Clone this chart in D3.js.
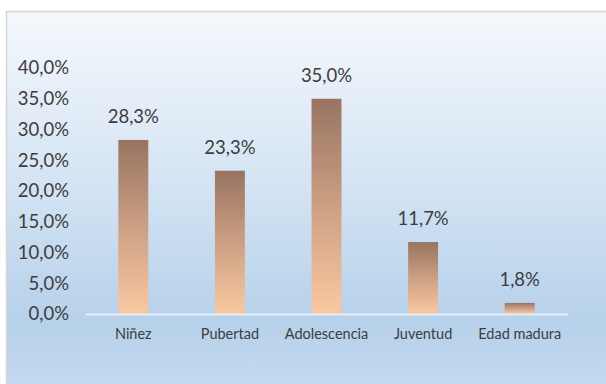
<!DOCTYPE html>
<html>
<head>
<meta charset="utf-8">
<script src="https://cdn.jsdelivr.net/npm/d3@7/dist/d3.min.js"></script>
<style>
  html, body { margin: 0; padding: 0; background: #ffffff; }
  svg { display: block; }
</style>
</head>
<body>
<div id="chart"></div>
<script>
// Distribution by life stage
const categories = ["Niñez", "Pubertad", "Adolescencia", "Juventud", "Edad madura"];
const values = [28.3, 23.3, 35.0, 11.7, 1.8];
const yTicks = [0, 5, 10, 15, 20, 25, 30, 35, 40];

const W = 606, H = 384;
const frame = { x: 6.5, y: 11.5 };
const plot = { left: 85, right: 568, top: 68, bottom: 314 };

const fmt = v => d3.format(".1f")(v).replace(".", ",") + "%";
const font = "Lato, 'Open Sans', sans-serif";
const textColor = "#3d3d3d";

const svg = d3.select("#chart").append("svg")
  .attr("width", W).attr("height", H);

const defs = svg.append("defs");
const bg = defs.append("linearGradient").attr("id", "bg")
  .attr("x1", 0).attr("y1", 0).attr("x2", 0).attr("y2", 1);
bg.append("stop").attr("offset", "0%").attr("stop-color", "#f5f8fc");
bg.append("stop").attr("offset", "45%").attr("stop-color", "#d4e4f4");
bg.append("stop").attr("offset", "82%").attr("stop-color", "#b6d1ea");
bg.append("stop").attr("offset", "100%").attr("stop-color", "#c4d9ee");

// each bar shades from brown at the top to peach at the base
const barGrad = defs.append("linearGradient").attr("id", "barGrad")
  .attr("x1", 0).attr("y1", 0).attr("x2", 0).attr("y2", 1);
barGrad.append("stop").attr("offset", "0%").attr("stop-color", "#987461");
barGrad.append("stop").attr("offset", "50%").attr("stop-color", "#cca083");
barGrad.append("stop").attr("offset", "100%").attr("stop-color", "#fac8a2");

// chart area with border
svg.append("rect")
  .attr("x", frame.x).attr("y", frame.y)
  .attr("width", W - frame.x + 5).attr("height", H - frame.y + 5)
  .attr("fill", "url(#bg)")
  .attr("stroke", "#d6d6d6").attr("stroke-width", 1.5);

const x = d3.scaleBand().domain(categories)
  .range([plot.left, plot.right]).paddingInner(0.69).paddingOuter(0.345);
const y = d3.scaleLinear().domain([0, 40]).range([plot.bottom, plot.top]);

// y axis labels
const yAxis = d3.axisLeft(y).tickValues(yTicks).tickFormat(fmt).tickSize(0).tickPadding(0);
const gy = svg.append("g").attr("transform", "translate(69,0)").call(yAxis);
gy.select(".domain").remove();
gy.selectAll("text")
  .attr("font-family", font).attr("font-size", 18.5).attr("fill", textColor);

// bars
svg.append("g").selectAll("rect").data(values).join("rect")
  .attr("x", (d, i) => x(categories[i]))
  .attr("y", d => y(d))
  .attr("width", x.bandwidth())
  .attr("height", d => y(0) - y(d))
  .attr("fill", "url(#barGrad)");

// baseline and category labels
const xAxis = d3.axisBottom(x).tickSize(0).tickPadding(15);
const gx = svg.append("g").attr("transform", `translate(0,${y(0)})`).call(xAxis);
gx.select(".domain").attr("stroke", "#e6edf5").attr("stroke-width", 2);
gx.selectAll("text")
  .attr("font-family", font).attr("font-size", 14.5).attr("fill", textColor);

// value labels
svg.append("g").selectAll("text").data(values).join("text")
  .attr("x", (d, i) => x(categories[i]) + x.bandwidth() / 2)
  .attr("y", d => y(d) - 17)
  .attr("text-anchor", "middle")
  .attr("font-family", font).attr("font-size", 18.5).attr("fill", textColor)
  .text(fmt);
</script>
</body>
</html>
